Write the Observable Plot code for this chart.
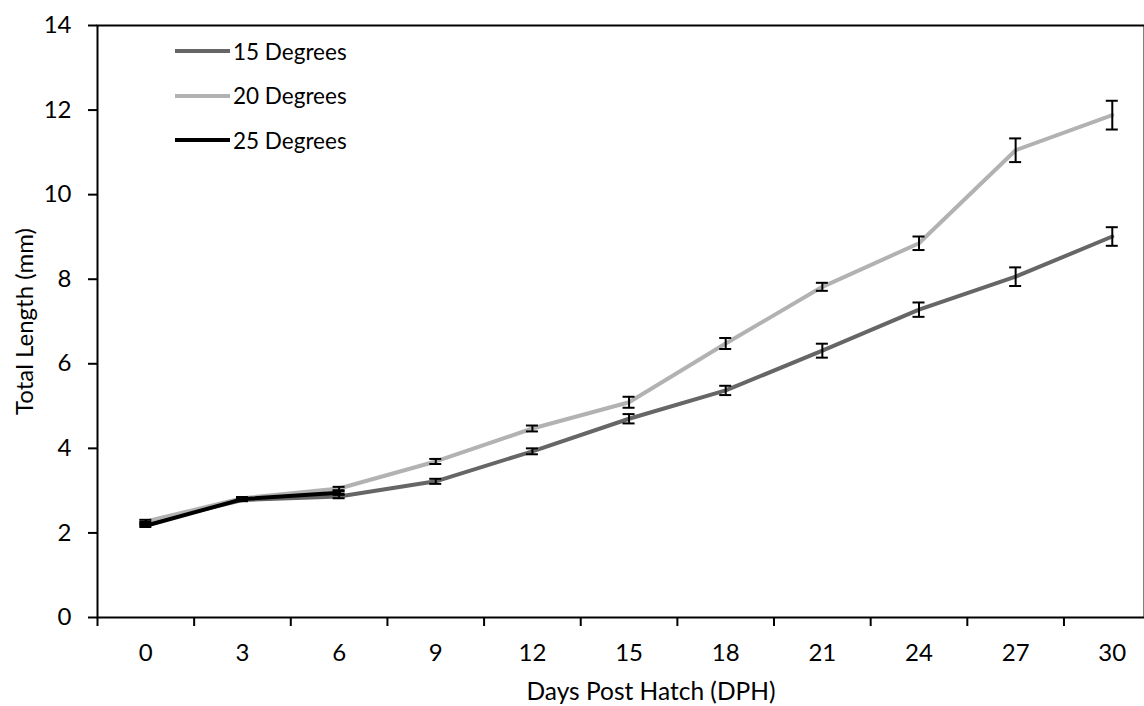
<!DOCTYPE html>
<html>
<head>
<meta charset="utf-8">
<script src="https://cdn.jsdelivr.net/npm/d3@7"></script>
<script src="https://cdn.jsdelivr.net/npm/@observablehq/plot@0.6"></script>
<style>
  html, body { margin: 0; padding: 0; background: #fff; overflow: hidden; }
  #wrap { position: relative; width: 1144px; height: 706px; }
  #legend { position: absolute; left: 175px; top: 29px; font-family: Lato, "Noto Sans", sans-serif; font-size: 22.5px; color: #000; }
  .row { display: flex; align-items: center; height: 44.5px; }
  .row svg { display: block; margin-right: 3px; }
</style>
</head>
<body>
<div id="wrap"><div id="legend"></div></div>
<script>
// ---- data ----
const days = [0, 3, 6, 9, 12, 15, 18, 21, 24, 27, 30];
const len15 = [2.22, 2.78, 2.86, 3.22, 3.93, 4.70, 5.37, 6.31, 7.28, 8.06, 9.01];
const err15 = [0.04, 0.03, 0.04, 0.06, 0.07, 0.11, 0.11, 0.165, 0.17, 0.22, 0.22];
const len20 = [2.27, 2.82, 3.05, 3.69, 4.47, 5.09, 6.48, 7.82, 8.85, 11.05, 11.88];
const err20 = [0.04, 0.03, 0.04, 0.06, 0.07, 0.13, 0.13, 0.095, 0.16, 0.28, 0.34];
const days25 = [0, 3, 6];
const len25 = [2.17, 2.80, 2.95];
const err25 = [0.03, 0.03, 0.03];
const seriesNames = ["15 Degrees", "20 Degrees", "25 Degrees"];
const seriesColors = ["#666666", "#b2b2b2", "#000000"];
const yTicks = [0, 2, 4, 6, 8, 10, 12, 14];
const xTitle = "Days Post Hatch (DPH)";
const yTitle = "Total Length (mm)";

// ---- build table ----
const rows = [];
days.forEach((d, i) => rows.push({series: seriesNames[0], day: d, len: len15[i], err: err15[i]}));
days.forEach((d, i) => rows.push({series: seriesNames[1], day: d, len: len20[i], err: err20[i]}));
days25.forEach((d, i) => rows.push({series: seriesNames[2], day: d, len: len25[i], err: err25[i]}));
rows.forEach(r => { r.lo = r.len - r.err; r.hi = r.len + r.err; });
const boundaries = days.map(d => d - 1.5);

const font = "Lato, 'Noto Sans', sans-serif";
const chart = Plot.plot({
  width: 1144,
  height: 706,
  marginLeft: 97,
  marginRight: 0,
  marginTop: 25,
  marginBottom: 89,
  style: {fontFamily: font, fontSize: "24px", color: "#000", background: "#fff", overflow: "hidden"},
  x: {type: "linear", domain: [-1.5, 31]},
  y: {domain: [0, 14]},
  color: {domain: seriesNames, range: seriesColors},
  marks: [
    Plot.axisY({ticks: yTicks, tickSize: 9, tickPadding: 17, strokeWidth: 2, label: yTitle, labelAnchor: "center", labelOffset: 82, labelArrow: "none", fontSize: 24}),
    Plot.axisX({ticks: boundaries, tickSize: 9, strokeWidth: 2, tickFormat: () => "", label: null}),
    Plot.axisX({ticks: days, tickSize: 0, tickPadding: 26, tickFormat: d => String(d), label: null, fontSize: 24}),
    Plot.text([xTitle], {text: d => d, frameAnchor: "bottom", lineAnchor: "middle", dx: 30, dy: 75, fontSize: 24.5, fill: "#000"}),
    Plot.line(rows, {x: "day", y: "len", z: "series", stroke: "series", strokeWidth: 4, strokeLinejoin: "round"}),
    Plot.ruleX(rows, {x: "day", y1: "lo", y2: "hi", stroke: "#000", strokeWidth: 2}),
    Plot.ruleY(rows, {x1: "day", x2: "day", y: "lo", insetLeft: -6, insetRight: -6, stroke: "#000", strokeWidth: 2}),
    Plot.ruleY(rows, {x1: "day", x2: "day", y: "hi", insetLeft: -6, insetRight: -6, stroke: "#000", strokeWidth: 2}),
    Plot.frame({stroke: "#000", strokeWidth: 2})
  ]
});
document.getElementById("wrap").prepend(chart);

// ---- legend ----
const legend = document.getElementById("legend");
seriesNames.forEach((name, i) => {
  const row = document.createElement("div");
  row.className = "row";
  row.innerHTML = `<svg width="55" height="8"><line x1="0" y1="4" x2="55" y2="4" stroke="${seriesColors[i]}" stroke-width="4"/></svg><span>${name}</span>`;
  legend.appendChild(row);
});
</script>
</body>
</html>
